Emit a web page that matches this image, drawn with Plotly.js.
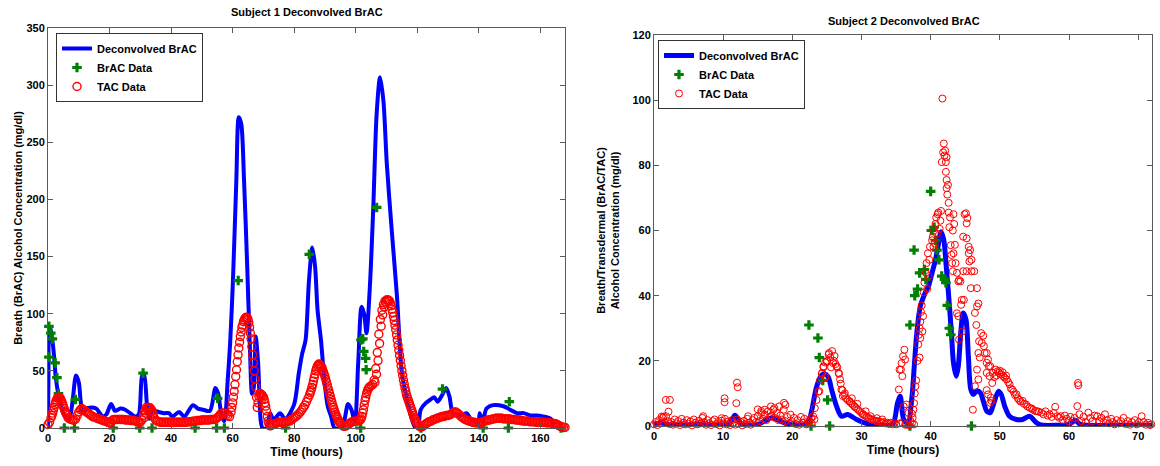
<!DOCTYPE html>
<html><head><meta charset="utf-8">
<script src="https://cdn.plot.ly/plotly-3.0.1.min.js"></script>
<style>html,body{margin:0;padding:0;background:#fff}#chart{width:1160px;height:466px}</style>
</head><body><div id="chart"></div>
<script>
// ---------- Subject 1 ----------
const deconv1T = [0,0.15,0.35,0.7,1.1,1.5,2.0,2.5,3.3,4.2,5.3,6.9,8.0,9.1,10.0,10.6,11.3,12.4,14.0,15.7,16.8,17.9,19.0,20.5,21.8,23.5,25.1,26.7,28.4,29.5,30.6,31.2,32.2,33.0,33.8,36.0,37.7,39.3,40.4,42.6,44.3,47.1,48.7,50.4,52.6,54.4,55.3,56.4,57.3,58.4,59.2,60.1,61.2,62.0,62.8,63.7,64.7,65.6,66.3,66.9,67.5,68.3,69.1,69.7,71.0,72.2,73.3,75.4,77.1,79.9,81.5,82.6,83.7,84.8,85.9,86.8,87.6,88.7,89.8,90.9,92.0,93.1,95.5,97.5,98.6,99.7,100.8,101.9,102.7,103.5,104.6,105.7,106.8,107.9,109.0,110.1,111.7,113.4,115.0,116.7,118.3,119.4,120.2,121.1,122.8,124.4,125.5,126.6,128.3,129.4,130.5,131.6,134.3,136.0,137.6,139.8,140.3,141.2,142.5,144.7,148.0,150.2,152.4,154.6,156.8,159.0,161.2,163.4,164.5];
const deconv1V = [0,45,85,88,82,75,62,45,30,19,11,8,24,46,40,24,13,17,18,17,13,10,12,21,15,17,16,13,10,12,46,47,19,8,15,14,13,13,10,14,10,20,17,16,15,35,30,11,6,42,75,129,217,272,266,217,144,71,30,36,80,56,7,0,0,13,7,13,8,20,48,65,77,129,158,141,103,77,42,19,10,0,0,21,16,5,57,106,100,83,124,193,275,307,286,231,173,115,48,25,7,0,0,16,22,25,27,23,30,35,27,13,11,13,7,5,13,5,17,20,19,16,13,13,11,11,10,8,3];

const brac1T = [0.3,0.9,1.4,0.3,2.3,2.9,3.4,5.3,8.6,8.9,21.2,29.8,30.9,33.8,47.8,54.8,55.1,57.3,61.8,77.2,84.9,101.6,101.7,102.3,102.6,103.2,103.4,106.8,121.2,128.2,141.4,149.6,149.9,166.7];
const brac1V = [89,83,78,62,57,44,30,0,0,25,0,0,48,0,0,0,26,0,129,0,152,0,77,78,67,61,51,193,0,34,0,0,23,0];

// TAC readings, one every half hour from t = 0
const tac1Step = 0.5;
const tac1V = [
3,5,9,13,18,23,26,27,26,23,
19,15,12,9,8,7.5,7,7,8,11,
14,16,17,16,15,14,13,12,11,10,
9.5,9,8.5,8,7.5,7,6.5,6,5.5,5,
4.5,5,7,7.5,7.5,7.5,7.5,7.5,7.5,7.5,
7,7,7,7,6.5,6.5,6.5,6,5.5,5,
5,7,11,15,18,18,17,14,11,9,
7,6,5.5,5,5,5,5,5,5,5,
5,5,5,5,5,5,5,5,5,5,
5,5.5,5.5,5.5,6,6,6,6.5,6.5,6.5,
7,7,7,7,7,7,7.5,7.5,7.5,8,
9,10,12,13,13,13,12,11,10,14,
22,32,45,58,70,80,88,93,96,97,
95,88,78,64,50,36,18,28,30,29,
27,22,15,6,2,2,3,3.5,4,4.5,
5,5,5,5,5.5,5.5,6,6,7,8,
9,10,11,12.5,14,16,18,20,23,26,
29,33,38,44,50,54,56,55,53,49,
45,40,35,30,25,20,16,12,9,6,
4,2.5,1.5,1.5,2,3,4,5,5.5,6,
6,6,6.5,7,10,16,24,30,34,36,
37,38,42,52,66,82,95,103,108,111,
112,112,111,107,101,94,86,77,68,59,
50,42,35,29,25,21,17,13,9,6,
4,2,1,1,2,3,4,5,5.5,6,
7,7.5,8,8.5,9,9.5,10,10,10.5,11,
11,11.5,12,13,14,14,13,12,10.5,9.5,
8.5,7.5,7,6.5,6,5.5,5,5,4.5,4.5,
4.5,4.5,5,5.5,6,6.5,7,7,7.5,8,
8,8.5,8.5,8.5,8.5,8.5,8,8,8,8,
8,7.5,7.5,7.5,7,7,7,6.5,6.5,6,
6,6,6,5.5,5.5,5.5,5.5,5,5,5,
5,5,5,5,4.5,4.5,4.5,4.5,4,4,
3.5,3,2,1.5,1,0.5,0.5];
// extra TAC readings on the steep stretches (quarter-hour offsets)
const tac1ExtraT = [1.25,1.75,2.25,2.75,3.25,3.75,4.25,4.75,5.25,5.75,
31.25,31.75,32.25,32.75,33.25,33.75,34.25,
59.75,60.25,60.75,61.25,61.75,62.25,62.75,63.25,63.75,64.25,64.75,65.25,65.75,66.25,66.75,67.25,67.75,68.25,68.75,69.25,69.75,70.25,70.75,71.25,71.75,
85.25,85.75,86.25,86.75,87.25,87.75,88.25,88.75,89.25,89.75,90.25,90.75,91.25,91.75,92.25,92.75,93.25,93.75,94.25,94.75,
101.75,102.25,102.75,103.25,103.75,104.25,106.25,106.75,107.25,107.75,108.25,108.75,109.25,109.75,110.25,110.75,111.25,111.75,112.25,112.75,113.25,113.75,114.25,114.75,115.25,115.75,116.25,116.75,117.25,117.75,118.25,118.75,119.25,119.75];
const tac1ExtraV = [11,15.5,20.5,24.5,26.5,26.5,24.5,21,17,13.5,
9,13,16.5,18,17.5,15.5,12.5,
18,27,38,51,64,75,84,90,94.5,96.5,96.5,92,83,71,57,43,27,22,29.5,29.5,28,25,19,10,4,
31,35.5,41,47,52,55,55.5,54,51,47,42.5,37.5,32.5,27.5,22.5,18,14,10.5,7.5,5,
8,13,20,27,32,35,40,47,59,74,89,99,106,110,112,111.5,109,104,97.5,90,81.5,72.5,63.5,54.5,46,38.5,32,27,23,19,15,11,7.5,5];

// ---------- Subject 2 ----------
const deconv2T = [0,1,2,4,6,8,10,10.8,11.3,11.7,12.2,12.7,13.5,15,16,17,18,19,20,21,22,22.6,23.5,24.2,24.7,25.2,25.7,26.4,27.1,28,29.3,30.7,32.6,34.5,35.2,35.6,36.1,36.7,37.3,37.65,38,38.5,39.2,39.7,40.2,40.7,41.05,41.5,41.9,42.25,42.6,43,43.3,43.7,44,44.35,44.7,45.1,45.45,45.8,46.2,46.65,47.2,47.6,48.1,48.6,49,49.8,50.2,50.7,51.4,52.4,53.3,54.3,55.3,56,58,60,60.9,61.6,63,66,69,72];
const deconv2V = [0.5,1,0.5,0.3,0.5,0.3,0.3,0.5,2,3.3,2,0.5,0.3,0.5,1.5,2.5,1.8,0.8,0.5,0.3,0.5,3,12,15.5,16,15,11,6,3,3.5,2,0.8,0.2,0.5,7,9.1,2,0.8,9,19,28.6,36.7,40.8,43,47,51,55,59.6,57,49,40,28.6,19.4,15.3,18.4,28.6,34.7,32.7,21.5,11.3,9.7,10.8,10.2,7.7,4.6,4.1,6.1,10.7,9.7,6.1,3,2,2,3,1,0.3,0.2,0.5,1.8,0.5,0.2,0.2,0.2,0.2];

const brac2T = [22.4,22.7,23.7,23.9,24.4,25.1,25.4,37.0,37.0,37.6,37.7,38.1,38.4,39.1,39.3,40.0,40.1,40.5,40.7,40.9,41.2,41.6,42.0,42.2,42.4,42.7,42.9,45.9];
const brac2V = [31,0,27,21,14,8,0,0,31,54,40,42,47,48,45,72,60,61,57,54,51,46,45,44,37,30,28,0];

// TAC readings on a quarter-hour grid from t = 0 to 35 h
const tac2Step = 0.25;
const tac2GridV = [
0.5,1.2,0.3,1.8,0.8,2.5,1.0,3.0,1.5,0.6,
1.2,0.4,2.0,0.8,1.5,0.3,2.2,1.0,0.5,1.8,
0.7,1.4,0.2,2.0,1.0,0.5,1.6,0.8,2.5,1.2,
0.4,1.8,0.9,0.3,1.5,2.0,0.6,1.2,0.2,1.6,
0.8,2.2,0.5,1.4,0.3,1.8,1.0,0.4,2.0,0.7,
1.3,0.2,1.6,0.6,2.2,1.0,0.4,1.8,2.5,1.2,
3.0,1.5,4.0,2.2,3.5,1.8,4.5,2.8,3.2,5.0,
2.5,4.0,1.8,3.2,2.0,5.0,1.5,2.8,0.8,3.5,
1.2,2.5,0.6,1.8,0.4,2.8,1.0,2.2,0.5,1.5,
1.5,2.5,3,5.5,8,10.5,14,16,18,19.5,
20,22,21,23,20,19,18,16,13,11,
9.5,8.5,8,7.5,7,6.5,6,5.5,5,4.5,
4,3.5,3.2,2.8,2.5,2.2,2.0,1.8,1.6,1.5,
1.4,1.2,1.0,1.2,0.8,1.0,0.6,1.0,0.5,0.8,
0.5];
// further TAC readings at their own times
const tac2ScatterT = [1.1,1.4,1.7,2.3,2.1,10.2,10.2,12.0,12.1,11.9,9.8,7.1,13.6,15.0,16.0,16.9,18.1,19.0,18.8,17.4,15.5,
24.3,24.5,25.0,25.3,25.9,26.4,26.7,26.9,27.1,27.3,23.9,24.8,25.6,26.1,27.6,28.3,28.6,29.0,29.4,30.2,30.6,31.3,32.2,33,23.2,22.8,
35.4,35.5,35.7,35.8,35.9,36.0,36.2,36.1,36.3,36.5,36.8,37.1,36.5,36.9,37.3,37.4,37.5,37.6,37.7,37.8,37.9,37.3,37.6,35.5,35.9,36.3,
38.1,38.2,38.3,38.4,38.5,38.5,38.6,38.7,38.4,38.8,38.9,39.0,39.1,39.3,39.4,39.5,39.6,39.7,39.8,39.9,40.2,40.3,40.4,40.5,40.6,40.7,40.8,40.9,41.0,
41.1,41.3,41.4,41.5,41.6,41.7,41.8,41.9,42.0,42.1,42.2,42.3,42.2,42.3,42.3,42.4,42.5,42.6,42.6,42.7,42.8,
42.9,43.0,43.1,43.2,43.3,43.5,43.6,43.8,44.0,44.1,44.3,43.8,44.4,44.5,44.1,44.6,44.0,44.7,44.7,44.9,43.3,43.4,43.2,
45.1,45.3,45.2,45.2,45.5,45.7,45.5,45.9,45.6,45.2,45.9,46.3,45.8,46.7,44.8,46.7,46.9,46.4,46.6,46.1,46.4,46.9,46.7,46.9,47.1,47.0,
47.3,47.6,47.4,47.7,47.8,48.1,48.1,48.3,48.4,48.5,48.1,48.6,48.9,48.7,48.6,48.1,48.3,48.8,
49.0,49.2,49.4,49.5,49.7,49.9,50.0,50.2,50.4,50.5,50.7,50.9,51.0,51.2,51.4,51.6,51.8,52.0,52.2,52.4,52.6,52.8,53.0,53.3,53.5,53.8,54.0,54.3,54.6,54.8,55.1,55.3,55.6,56.0,56.3,56.6,56.9,57.2,57.5,57.8,58.0,58.3,58.6,58.8,59.1,59.4,59.7,59.9,60.2,60.5,60.8,61.2,61.3,61.35,61.5,61.8,62.1,62.4,62.8,63.1,63.4,63.7,64.1,64.4,64.7,65.0,65.2,65.5,65.8,66.1,66.3,66.6,66.9,67.2,67.5,67.9,68.2,68.5,68.8,69.1,69.5,69.8,70.1,70.5,70.8,71.1,71.4,71.7,71.9];
const tac2ScatterV = [2.9,2.9,8,8,4.4,8.5,7.3,13.3,11.9,7,2.4,3,3,5.1,5,6,6,6.5,7.1,5.5,4.6,
16.3,18.3,19.8,22.4,19.3,18.3,16.3,14.3,11.2,9.2,10.7,15,18,21.5,10,7.6,8.5,5.9,6.8,3.6,4.5,3,2.4,2,2,0.8,
11.2,17.3,17.3,19.3,15.3,21.4,23.4,6,20.4,6.6,4,1.5,0.5,0.2,0.8,2.5,5,7,10,12.2,14,3.8,0.5,0.8,1,0.4,
20,25,28,30,32,27,35,37,21,29,33.7,41,44,47,50,42,53,46,51,55,57,58,55,60,56,62,64,59,65,
65.5,60.5,63,66,81,100.5,84,86.7,83,84.5,81,82.5,78,75.5,73,71,74,68.5,65.5,61,64,
55.5,52.5,50,47.5,53,55.6,50,47,44.4,44.8,44.4,34.6,37.2,38.7,26.5,29,33.7,47.5,58.1,65,65,62,60,
65.3,63.8,62.2,57.6,55,54,53,51,50.5,47.5,47.5,47.5,42.3,42.3,38.7,36.7,37.6,34.7,31,5,12.2,14.3,17.3,22.4,21,26,
28.5,27.7,25.5,24.5,22.4,22.4,19.4,20.4,18.3,15.3,16.3,18.4,13.2,8.7,7.1,11,9.7,7.7,
16.3,15,17.3,15.5,16.8,16.3,17,15.8,16.5,15.3,14.8,15.5,14.3,13.5,12.8,11.5,11.2,10.5,9.5,9.7,8.5,8,7.5,7.7,6.8,6.6,6,5.6,5.4,5,4.6,4.6,4.4,4.1,3.6,4.5,3.2,3.6,2.8,4,5.9,3,2.5,3,1.8,3.2,2.2,1.5,2.8,1.6,2.5,6.1,13.2,12.5,3.6,1.5,2.8,1.2,4.1,2.5,1.5,3.2,3,1.5,2.5,1.2,3.6,1.8,0.8,2.2,1.2,0.5,1.8,0.8,1.5,2.5,0.6,1.5,0.4,1.2,1.8,0.5,1.2,3,1.2,0.4,1,0.3,0.5];

// ---------- build ----------
const tac1T = tac1V.map((v, i) => i * tac1Step).concat(tac1ExtraT);
const tac1All = tac1V.concat(tac1ExtraV);
const tac2T = tac2GridV.map((v, i) => i * tac2Step).concat(tac2ScatterT);
const tac2V = tac2GridV.concat(tac2ScatterV);

const FONT = {family: 'Liberation Sans, Arial, sans-serif', size: 11, color: '#000', weight: 'bold'};
const BLUE = '#0000ff', GREEN = '#008000', RED = '#ff0000';

function traces(xa, ya, leg, dT, dV, bT, bV, tT, tV, lw, ms, mlw) {
  return [
    {x: dT, y: dV, xaxis: xa, yaxis: ya, legend: leg, type: 'scatter', mode: 'lines',
     name: 'Deconvolved BrAC', line: {color: BLUE, width: lw, shape: 'spline', smoothing: 0.8}},
    {x: bT, y: bV, xaxis: xa, yaxis: ya, legend: leg, type: 'scatter', mode: 'markers',
     name: 'BrAC Data', cliponaxis: false,
     marker: {symbol: 'cross', size: 8, color: GREEN, line: {width: 0}}},
    {x: tT, y: tV, xaxis: xa, yaxis: ya, legend: leg, type: 'scatter', mode: 'markers',
     name: 'TAC Data', cliponaxis: false,
     marker: {symbol: 'circle-open', size: ms, color: RED, line: {width: mlw, color: RED}}}
  ];
}

const data = [].concat(
  traces('x', 'y', 'legend', deconv1T, deconv1V, brac1T, brac1V, tac1T, tac1All, 4, 8, 1.4),
  traces('x2', 'y2', 'legend2', deconv2T, deconv2V, brac2T, brac2V, tac2T, tac2V, 5, 7, 1)
);

function axis(extra) {
  return Object.assign({
    showline: true, mirror: 'allticks', linecolor: '#5a5a5a', linewidth: 1,
    ticks: 'inside', ticklen: 5, tickcolor: '#5a5a5a', showgrid: false, zeroline: false,
    tickfont: FONT, automargin: false
  }, extra);
}

const L = 48, R = 8, T = 28, B = 37.5, W = 1160, H = 466;
const PW = W - L - R, PH = H - T - B;
const px = v => (v - L) / PW;
const py = v => (H - B - v) / PH;

const legendStyle = {font: FONT, bgcolor: '#fff', bordercolor: '#333', borderwidth: 1,
  xanchor: 'left', yanchor: 'top', itemwidth: 30, tracegroupgap: 0};

const layout = {
  width: W, height: H,
  margin: {l: L, r: R, t: T, b: B},
  paper_bgcolor: '#fff', plot_bgcolor: '#fff',
  font: FONT,
  showlegend: true,
  xaxis: axis({domain: [0, px(565)], range: [0, 168], tickvals: [0,20,40,60,80,100,120,140,160],
    anchor: 'y', title: {text: 'Time (hours)', font: Object.assign({}, FONT, {size: 12}), standoff: 4}}),
  yaxis: axis({domain: [0, 1], range: [0, 350], tickvals: [0,50,100,150,200,250,300,350],
    anchor: 'x', title: {text: 'Breath (BrAC) Alcohol Concentration (mg/dl)', font: FONT, standoff: 1}}),
  xaxis2: axis({domain: [px(654), 1], range: [0, 72], tickvals: [0,10,20,30,40,50,60,70],
    anchor: 'y2', title: {text: 'Time (hours)', font: Object.assign({}, FONT, {size: 12}), standoff: 4}}),
  yaxis2: axis({domain: [py(426.5), py(35)], range: [0, 120], tickvals: [0,20,40,60,80,100,120],
    anchor: 'x2', title: {text: 'Breath/Transdermal (BrAC/TAC)<br>Alcohol Concentration (mg/dl)', font: FONT, standoff: 10}}),
  legend: Object.assign({x: px(56), y: py(33)}, legendStyle),
  legend2: Object.assign({x: px(658), y: py(40)}, legendStyle),
  annotations: [
    {text: 'Subject 1 Deconvolved BrAC', xref: 'paper', yref: 'paper', x: px(306.5), y: py(12),
     xanchor: 'center', yanchor: 'middle', showarrow: false, font: FONT},
    {text: 'Subject 2 Deconvolved BrAC', xref: 'paper', yref: 'paper', x: px(904), y: py(21),
     xanchor: 'center', yanchor: 'middle', showarrow: false, font: FONT}
  ]
};

Plotly.newPlot('chart', data, layout, {displayModeBar: false, staticPlot: true});
</script></body></html>
